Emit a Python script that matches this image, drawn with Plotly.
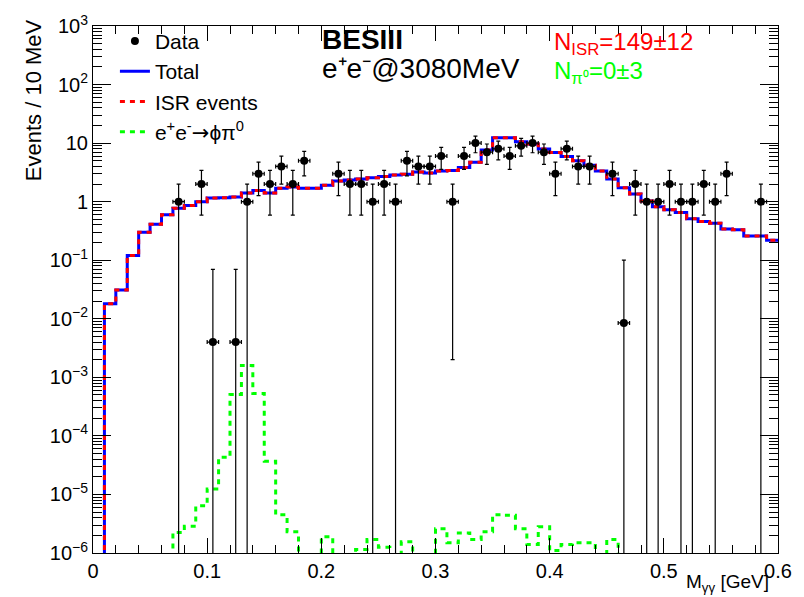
import numpy as np
import plotly.graph_objects as go

# ---------------- data ----------------
bin_edges = np.round(np.arange(0.0, 0.6001, 0.01), 3)  # 10 MeV bins, 0..0.6 GeV

isr_vals = [0, 0.018, 0.031, 0.12, 0.30, 0.41, 0.60, 0.77, 0.86, 1.0,
            1.15, 1.17, 1.2, 1.4, 1.55, 1.4, 1.7, 1.78, 1.7, 1.7,
            1.9, 2.25, 2.35, 2.45, 2.55, 2.7, 2.85, 2.95, 3.2, 3.1,
            3.35, 3.4, 3.85, 4.7, 7.6, 12.4, 12.4, 10.6, 9.7, 7.9,
            6.9, 5.9, 5.0, 4.2, 3.35, 2.45, 1.73, 1.35, 1.03, 0.82,
            0.73, 0.65, 0.51, 0.46, 0.43, 0.34, 0.33, 0.26, 0.26, 0.22]

phipi0_vals = [0, 0, 0, 0, 0, 0, 0, 2.25e-6, 2.85e-6, 6.4e-6,
               1.24e-5, 4.3e-5, 5.1e-4, 1.6e-3, 5.3e-4, 3.7e-5, 4.5e-6, 2.3e-6, 0, 0,
               1.9e-6, 0, 0, 1.15e-6, 1.7e-6, 1.25e-6, 0, 1.55e-6, 0, 0,
               2.6e-6, 1.5e-6, 2.2e-6, 1.7e-6, 2.3e-6, 4.5e-6, 4.4e-6, 2.6e-6, 1.4e-6, 2.8e-6,
               1.1e-6, 1.4e-6, 1.5e-6, 1.5e-6, 0, 1.7e-6, 0, 0, 0, 0,
               0, 0, 0, 0, 0, 0, 0, 0, 0, 0]

data_x = [0.075, 0.095, 0.105, 0.125, 0.135, 0.145, 0.155, 0.165, 0.175, 0.185,
          0.215, 0.225, 0.235, 0.245, 0.255, 0.265, 0.275, 0.285, 0.295, 0.305,
          0.315, 0.325, 0.335, 0.345, 0.355, 0.365, 0.375, 0.385, 0.395, 0.405,
          0.415, 0.425, 0.435, 0.455, 0.465, 0.475, 0.485, 0.495, 0.505, 0.515,
          0.525, 0.535, 0.545, 0.555, 0.585]
data_y = [1, 2, 0.004, 0.004, 1, 3, 2, 4, 2, 5,
          3, 2, 2, 1, 2, 1, 5, 4, 4, 6,
          1, 6, 10, 7, 8, 6, 9, 10, 7, 3,
          8, 4, 4, 3, 0.0085, 2, 1, 1, 2, 1,
          1, 2, 1, 3, 1]
data_err_hi = [1, 1.41, 0.066, 0.066, 1, 1.73, 1.41, 2, 1.41, 2.24,
               1.73, 1.41, 1.41, 1, 1.41, 1, 2.24, 2, 2, 2.45,
               1, 2.45, 3.16, 2.65, 2.83, 2.45, 3, 3.16, 2.65, 1.73,
               2.83, 2, 2, 1.73, 0.092, 1.41, 1, 1, 1.41, 1,
               1, 1.41, 1, 1.73, 1]
data_err_lo = [1, 1.41, 0.004, 0.004, 1, 1.73, 1.41, 2, 1.41, 2.24,
               1.73, 1.41, 1.41, 1, 1.41, 1, 2.24, 2, 2, 2.45,
               0.998, 2.45, 3.16, 2.65, 2.83, 2.45, 3, 3.16, 2.65, 1.73,
               2.83, 2, 2, 1.73, 0.0085, 1.41, 1, 1, 1.41, 1,
               1, 1.41, 1, 1.73, 1]
bin_half_width = 0.005

y_tick_vals = [1e3, 1e2, 1e1, 1, 1e-1, 1e-2, 1e-3, 1e-4, 1e-5, 1e-6]
y_tick_text = ["10<sup>3</sup>", "10<sup>2</sup>", "10", "1", "10<sup>\u22121</sup>",
               "10<sup>\u22122</sup>", "10<sup>\u22123</sup>", "10<sup>\u22124</sup>",
               "10<sup>\u22125</sup>", "10<sup>\u22126</sup>"]

# ---------------- helpers ----------------
FLOOR = 1e-9  # empty bins drawn below the visible range (as ROOT does on log scale)


def step_xy(vals):
    v = np.array(vals, dtype=float)
    v = np.where(v > 0, v, FLOOR)
    xs = list(bin_edges[:-1]) + [bin_edges[-1]]
    ys = list(v) + [v[-1]]
    return xs, ys


isr_arr = np.array(isr_vals, dtype=float)
sig_arr = np.array(phipi0_vals, dtype=float)
total_arr = isr_arr + sig_arr

dy = np.array(data_y, dtype=float)
lo_bound = np.maximum(dy - np.array(data_err_lo), FLOOR)
err_minus = dy - lo_bound

FONT = "Liberation Sans, Arial, Helvetica, sans-serif"

fig = go.Figure()

tx, ty = step_xy(total_arr)
fig.add_trace(go.Scatter(x=tx, y=ty, mode="lines", line_shape="hv", name="Total",
                         line=dict(color="#0000ff", width=3), legendrank=2))
ix, iy = step_xy(isr_arr)
fig.add_trace(go.Scatter(x=ix, y=iy, mode="lines", line_shape="hv", name="ISR events",
                         line=dict(color="#ff0000", width=3, dash="5px,5px"), legendrank=3))
gx, gy = step_xy(sig_arr)
fig.add_trace(go.Scatter(x=gx, y=gy, mode="lines", line_shape="hv",
                         name="e<sup>+</sup>e<sup>-</sup><span style='font-family:DejaVu Sans'>\u2192</span>\u03d5\u03c0<sup>0</sup>",
                         line=dict(color="#00ff00", width=3, dash="5px,5px"), legendrank=4))
fig.add_trace(go.Scatter(
    x=data_x, y=data_y, mode="markers", name="Data", legendrank=1,
    marker=dict(color="black", size=8, symbol="circle"),
    error_y=dict(type="data", symmetric=False, array=data_err_hi, arrayminus=list(err_minus),
                 color="black", thickness=1.2, width=2),
    error_x=dict(type="constant", value=bin_half_width, color="black", thickness=1.2, width=2),
))

minor_y = [k * 10.0 ** d for d in range(-6, 3) for k in range(2, 10)]

fig.update_layout(
    width=804, height=597,
    margin=dict(l=93, r=21, t=16, b=44),
    paper_bgcolor="white", plot_bgcolor="white",
    font=dict(family=FONT, size=20, color="black"),
    showlegend=True,
    legend=dict(x=0.032, y=1.01, xanchor="left", yanchor="top",
                bgcolor="rgba(0,0,0,0)", font=dict(family=FONT, size=21, color="black"),
                traceorder="normal", itemwidth=30),
    xaxis=dict(range=[0, 0.6], dtick=0.1, tick0=0, ticks="inside", ticklen=15,
               tickcolor="black", showline=True, linecolor="black", linewidth=1,
               mirror="allticks", showgrid=False, zeroline=False,
               tickfont=dict(family=FONT, size=20),
               minor=dict(dtick=0.02, tick0=0, ticks="inside", ticklen=8, tickcolor="black",
                          showgrid=False)),
    yaxis=dict(type="log", range=[-6, 3], tickvals=y_tick_vals, ticktext=y_tick_text,
               ticks="inside", ticklen=18, tickcolor="black", showline=True,
               linecolor="black", linewidth=1, mirror="allticks", showgrid=False,
               zeroline=False, tickfont=dict(family=FONT, size=20),
               minor=dict(tickvals=minor_y, ticks="inside", ticklen=9, tickcolor="black",
                          showgrid=False)),
)

annots = [
    dict(text="<b>BESIII</b>", x=0.332, y=0.975, font=dict(size=28, color="black")),
    dict(text="e\u207ae\u207b@3080MeV", x=0.332, y=0.919, font=dict(size=28, color="black")),
    dict(text="N<sub>ISR</sub>=149\u00b112", x=0.6696, y=0.966, font=dict(size=24, color="#ff0000")),
    dict(text="N<sub>\u03c0\u2070</sub>=0\u00b13", x=0.6696, y=0.912, font=dict(size=24, color="#00ff00")),
]
for a in annots:
    fig.add_annotation(xref="paper", yref="paper", xanchor="left", yanchor="middle",
                       showarrow=False, font_family=FONT, **{k: v for k, v in a.items()})

fig.add_annotation(xref="paper", yref="paper", x=0.99, y=-0.057, xanchor="right", yanchor="middle",
                   showarrow=False, text="M<sub>\u03b3\u03b3</sub> [GeV]",
                   font=dict(family=FONT, size=19, color="black"))
fig.add_annotation(xref="paper", yref="paper", x=-0.087, y=0.86, xanchor="center", yanchor="middle",
                   showarrow=False, textangle=-90, text="Events / 10 MeV",
                   font=dict(family=FONT, size=22, color="black"))

fig.write_html("out.html")
